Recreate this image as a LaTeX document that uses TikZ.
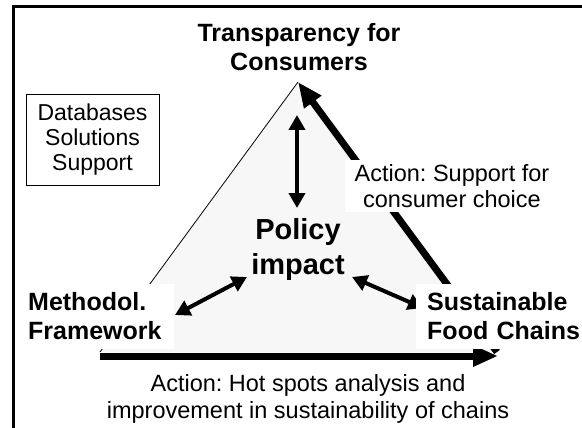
\documentclass[tikz,border=0pt]{standalone}
\usepackage{fontspec}
\setmainfont{Liberation Sans}
\usetikzlibrary{arrows.meta}
\frenchspacing
\pgfdeclarelayer{bglayer}
\pgfdeclarelayer{midlayer}
\pgfsetlayers{bglayer,midlayer,main}
\tikzset{
  boldlbl/.style={font=\bfseries\fontsize{25}{28.5}\selectfont},
  reglbl/.style={font=\fontsize{23.5}{26.5}\selectfont},
  thickarrow/.style={line width=7pt, -{Triangle[length=25pt,width=20pt]}},
  dblarrow/.style={line width=4pt, {Triangle[length=15pt,width=16pt]}-{Triangle[length=15pt,width=16pt]}},
  whitebox/.style={fill=white},
}
\begin{document}
\begin{tikzpicture}[x=1pt,y=-1pt]
\useasboundingbox (0,0) rectangle (582,428);
% frame
\coordinate (fr1) at (582,6.5);
\coordinate (fr2) at (13.5,6.5);
\coordinate (fr3) at (13.5,428);
\draw[line width=3pt] (fr1) -- (fr2) -- (fr3);
% triangle corners
\coordinate (A) at (298,82);
\coordinate (L) at (100,352);
\coordinate (R) at (497,352);
\coordinate (L2) at (100,356);
\coordinate (R2) at (498,356);
% double arrow ends
\coordinate (v1) at (297,115);
\coordinate (v2) at (297,208);
\coordinate (l1) at (175,315);
\coordinate (l2) at (247,277);
\coordinate (r1) at (352,277);
\coordinate (r2) at (423,308);
\begin{pgfonlayer}{bglayer}
  \fill[black!3] (A) -- (L) -- (R) -- cycle;
  \draw[line width=0.8pt] (A) -- (L);
\end{pgfonlayer}
\begin{pgfonlayer}{midlayer}
  \draw[thickarrow] (L2) -- (R2);
  \draw[thickarrow] (R) -- (A);
  \draw[dblarrow] (v1) -- (v2);
  \draw[dblarrow] (l1) -- (l2);
  \draw[dblarrow] (r1) -- (r2);
\end{pgfonlayer}
% labels
\node[boldlbl, align=center] (title) at (299,47) {Transparency for\\Consumers};
\node[draw, line width=0.8pt, font=\fontsize{23}{25}\selectfont, align=center,
      minimum width=133pt, minimum height=91pt, inner sep=0pt] (db) at (92.5,140)
      {Databases\\Solutions\\Support};
\node[reglbl, whitebox, align=center, inner xsep=10pt, inner ysep=4pt] (act1) at (452,186)
      {Action: Support for\\consumer choice};
\node[font=\bfseries\fontsize{29}{35}\selectfont, align=center] (pol) at (298,250) {Policy\\impact};
\node[boldlbl, whitebox, align=left, anchor=west, text width=134pt, inner xsep=12pt,
      minimum height=65pt] (meth) at (16,316) {Methodol.\\Framework};
\node[boldlbl, whitebox, align=left, anchor=west, text width=160pt, inner xsep=11pt,
      minimum height=65pt] (sfc) at (416,316) {Sustainable\\Food Chains};
\node[reglbl, align=center] (act2) at (308,399)
      {Action: Hot spots analysis and\\improvement in sustainability of chains};
\end{tikzpicture}
\end{document}
